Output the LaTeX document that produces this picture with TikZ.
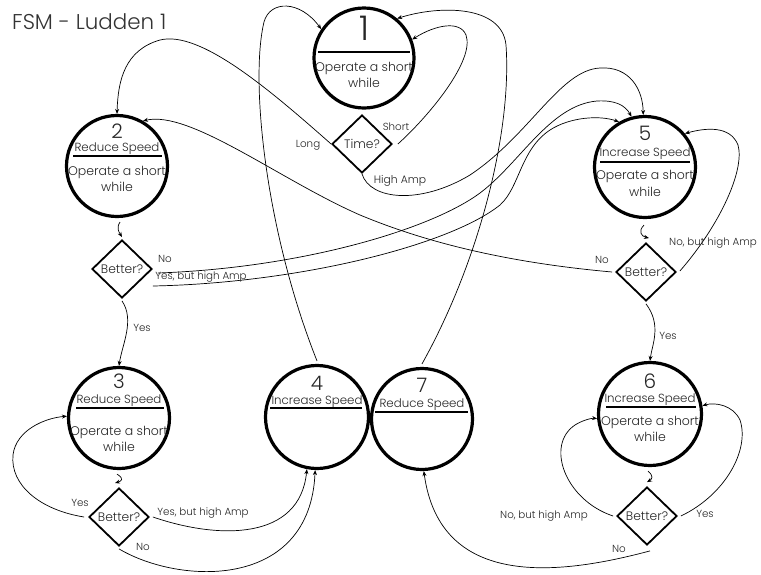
\documentclass[tikz,border=0pt]{standalone}
\usepackage{fontspec}
\setmainfont{Poppins}[UprightFont={* Light}]
\usetikzlibrary{arrows.meta,shapes.geometric}
\newcommand\myfs[1]{\fontsize{#1}{#1}\selectfont}
\begin{document}
\begin{tikzpicture}[x=1pt,y=-1pt,
  state/.style={circle,draw,line width=3.2pt,minimum size=101pt,inner sep=0pt},
  dec/.style={diamond,draw,line width=1.8pt,minimum width=60pt,minimum height=58pt,inner sep=0pt,font=\myfs{12.3},text=black!85},
  arr/.style={-{Stealth[length=5pt,width=4pt]},line width=0.7pt},
  sepline/.style={line width=1.7pt},
  txt/.style={font=\myfs{12.5},inner sep=0pt,text=black!85},
  head/.style={font=\myfs{11.8},inner sep=0pt,text=black!85},
  num/.style={font=\myfs{20},inner sep=0pt,text=black!85},
  bignum/.style={font=\myfs{34},inner sep=0pt,text=black!85},
  lbl/.style={font=\myfs{10.3},inner sep=0pt,text=black!85},
  ttl/.style={font=\myfs{21.4},inner sep=0pt,text=black!80}]
\useasboundingbox (0,0) rectangle (761,574);
\fill[white] (0,0) rectangle (761,574);

% title
\node[ttl,anchor=west] (title) at (12,22) {FSM - Ludden 1};

% states
\node[state,minimum size=100pt] (c1) at (364,58) {};
\node[state] (c2) at (117,166) {};
\node[state] (c5) at (645,167) {};
\node[state] (c3) at (119,418) {};
\node[state,minimum size=103pt] (c4) at (317,417) {};
\node[state] (c7) at (422,419) {};
\node[state,minimum size=103pt] (c6) at (650,414) {};

% decisions
\node[dec] (t1) at (362,144) {Time?};
\node[dec] (d2) at (122,269) {Better?};
\node[dec] (d5) at (646,272) {Better?};
\node[dec] (d3) at (119,517) {Better?};
\node[dec] (d6) at (647,516) {Better?};

% state texts
\node[bignum] (n1) at (364,28) {1};
\draw[sepline] (318,52) -- (410,52);
\node[txt] (o1) at (364,68) {Operate a short};
\node[txt] (w1) at (364,83) {while};

\node[num] (n2) at (117,131) {2};
\node[head] (r2) at (117,149) {Reduce Speed};
\draw[sepline] (73,156) -- (162,156);
\node[txt] (o2) at (117,172) {Operate a short};
\node[txt] (w2) at (117,187) {while};

\node[num] (n5) at (645,133) {5};
\node[head] (i5) at (645,154) {Increase Speed};
\draw[sepline] (600,162) -- (690,162);
\node[txt] (o5) at (645,176) {Operate a short};
\node[txt] (w5) at (645,192) {while};

\node[num] (n3) at (119,381) {3};
\node[head] (r3) at (119,401) {Reduce Speed};
\draw[sepline] (76,408) -- (164,408);
\node[txt] (o3) at (119,432) {Operate a short};
\node[txt] (w3) at (119,447) {while};

\node[num] (n4) at (317,383) {4};
\node[head] (i4) at (317,402) {Increase Speed};
\draw[sepline] (270,408) -- (362,408);

\node[num] (n7) at (422,385) {7};
\node[head] (r7) at (422,405) {Reduce Speed};
\draw[sepline] (375,412) -- (468,412);

\node[num] (n6) at (650,381) {6};
\node[head] (i6) at (650,400) {Increase Speed};
\draw[sepline] (606,407) -- (696,407);
\node[txt] (o6) at (650,422) {Operate a short};
\node[txt] (w6) at (650,437) {while};

% connectors
% Short: Time? -> 1
\draw[arr] ([xshift=5pt]t1.east) .. controls (430,115) and (475,60) .. (466,35) .. controls (460,20) and (435,25) .. (c1.21);
% 7 -> 1
\draw[arr] ([yshift=3pt]c7.north) .. controls (480,260) and (512,130) .. (506,45) .. controls (502,5) and (440,5) .. (c1.50);
% 4 -> 1
\draw[arr] ([yshift=3pt]c4.north) .. controls (265,230) and (250,80) .. (264,22) .. controls (270,0) and (300,0) .. (c1.146);
% Long: Time? -> 2
\draw[arr] (t1.west) .. controls (270,90) and (200,30) .. (160,40) .. controls (125,50) and (118,80) .. (c2.north);
% High Amp: Time? -> 5
\draw[arr] (t1.south) .. controls (370,200) and (420,205) .. (470,175) .. controls (530,135) and (560,70) .. (600,68) .. controls (630,66) and (643,90) .. (c5.92);
% 2: No -> 5
\draw[arr] ([shift={(5pt,-4pt)}]d2.east) .. controls (300,268) and (430,230) .. (480,193) .. controls (520,163) and (550,105) .. (597,101) .. controls (615,100) and (625,105) .. (c5.105);
% 2: Yes, but high Amp -> 5
\draw[arr] ([shift={(0pt,-17pt)}]d2.east) .. controls (300,283) and (450,245) .. (500,205) .. controls (520,187) and (520,150) .. (550,130) .. controls (570,117) and (600,115) .. (c5.120);
% 5: No -> 2
\draw[arr] ([xshift=-3pt]d5.west) .. controls (500,262) and (420,240) .. (360,215) .. controls (280,180) and (190,110) .. (c2.60);
% 5: No, but high Amp -> 5
\draw[arr] ([shift={(3pt,1pt)}]d5.east) .. controls (720,225) and (745,170) .. (738,145) .. controls (730,125) and (705,128) .. (c5.40);
% state -> decision squiggles
\draw[arr] ([shift={(-1pt,-6pt)}]c5.south) .. controls +(-6,6) and +(-8,-2) .. ([shift={(3pt,4pt)}]d5.north);
\draw[arr] ([shift={(3pt,-4pt)}]c2.south) .. controls +(-4,6) and +(-3,-5) .. ([yshift=2pt]d2.north);
\draw[arr] ([shift={(-2pt,-4pt)}]c3.south) .. controls +(8,5) and +(6,-2) .. ([shift={(-4pt,4pt)}]d3.north);
\draw[arr] ([shift={(-2pt,-4pt)}]c6.south) .. controls +(6,5) and +(5,-3) .. ([yshift=4pt]d6.north);
% 2: Yes -> 3
\draw[arr] ([yshift=-2pt]d2.south) .. controls (135,320) and (122,345) .. (c3.north);
% 5: Yes -> 6
\draw[arr] ([yshift=-2pt]d5.south) .. controls (662,325) and (652,345) .. (c6.north);
% 3: Yes -> 3
\draw[arr] ([xshift=-4pt]d3.west) .. controls (40,510) and (10,485) .. (13,455) .. controls (16,430) and (45,418) .. (c3.178);
% 3: Yes, but high Amp -> 4
\draw[arr] ([xshift=3pt]d3.east) .. controls (220,540) and (300,540) .. (c4.259);
% 3: No -> 4
\draw[arr] ([yshift=-2pt]d3.south) .. controls (180,585) and (310,590) .. (c4.268);
% 6: No, but high Amp -> 6
\draw[arr] ([xshift=-3pt]d6.west) .. controls (565,500) and (545,445) .. (575,425) .. controls (583,420) and (592,418) .. (c6.185);
% 6: Yes -> 6
\draw[arr] ([xshift=3pt]d6.east) .. controls (725,495) and (750,450) .. (740,420) .. controls (733,405) and (715,402) .. (c6.9);
% 6: No -> 7
\draw[arr] ([shift={(3pt,-5pt)}]d6.south) .. controls (560,575) and (440,590) .. (c7.272);

% labels
\node[lbl] (l1) at (308,145) {Long};
\node[lbl] (l2) at (396,127) {Short};
\node[lbl,font=\myfs{10.8}] (l3) at (400,181) {High Amp};
\node[lbl] (l4) at (165,259) {No};
\node[lbl] (l5) at (201,277) {Yes, but high Amp};
\node[lbl] (l6) at (142,328) {Yes};
\node[lbl] (l7) at (602,260) {No};
\node[lbl] (l8) at (713,243) {No, but high Amp};
\node[lbl] (l9) at (668,336) {Yes};
\node[lbl] (l10) at (80,503) {Yes};
\node[lbl] (l11) at (203,513) {Yes, but high Amp};
\node[lbl] (l12) at (143,547) {No};
\node[lbl] (l13) at (544,516) {No, but high Amp};
\node[lbl] (l14) at (705,514) {Yes};
\node[lbl] (l15) at (619,549) {No};
\end{tikzpicture}
\end{document}
